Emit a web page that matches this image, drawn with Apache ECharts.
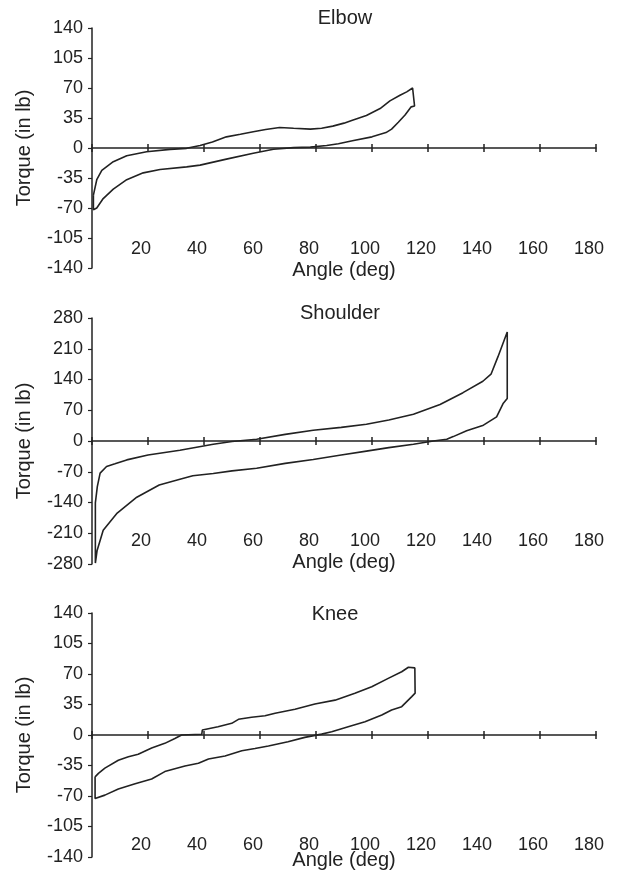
<!doctype html>
<html>
<head>
<meta charset="utf-8">
<title>Torque vs angle</title>
<script src="https://cdn.jsdelivr.net/npm/echarts@6/dist/echarts.min.js"></script>
<style>
html, body { margin: 0; background: #fff; }
#chart { width: 625px; height: 875px; }
</style>
</head>
<body>
<div id="chart"></div>
<script>
// angle axis (deg)
const angleMin = 0, angleMax = 180, angleStep = 20;

// torque ticks (in lb)
const elbowTicks = [-140, -105, -70, -35, 0, 35, 70, 105, 140];
const shoulderTicks = [-280, -210, -140, -70, 0, 70, 140, 210, 280];
const kneeTicks = [-140, -105, -70, -35, 0, 35, 70, 105, 140];

// [angle, torque], upper branch then lower branch
const elbowUpper = [[0.5,-55],[1.7,-37],[3.5,-26],[7.6,-16],[12.4,-9],[19.5,-4.3],[27.9,-1.6],[33.8,-0.4],[38.6,3],[43,7],[48,13],[53,16],[57.6,19],[62,21.5],[67,24],[72,23],[78,22],[82,23],[86,25.5],[90,29],[93,32.5],[98,38],[102.9,46],[106.4,55],[110,61.5],[112.4,65.5],[114.5,70],[115.2,69.5]];
const elbowLower = [[115.2,49],[114,48],[111.8,38.5],[109.4,30],[107,22],[105,18],[100,13],[93,8.5],[88,5],[83.8,3],[78,1],[72,0.4],[64.8,-1.5],[57.6,-6.2],[48,-13],[38.6,-20],[33.8,-22],[24.3,-25],[18.3,-29],[12.4,-37],[7.6,-48],[4,-59],[1.7,-70],[0.5,-72]];

const shoulderUpper = [[1.2,-278],[1.2,-141],[1.9,-104],[2.9,-73],[5.2,-58],[8.2,-52],[12.4,-43],[20,-32],[31.4,-21],[43.3,-7.5],[50,-1],[58.8,4],[69,15],[79,24.5],[89,31],[98,38],[106,48],[114.8,61],[124.3,83],[132.5,110],[139.6,136],[142.5,152],[145,192],[148.3,248]];
const shoulderLower = [[148.3,97],[146.9,86],[144.5,55],[139.8,36],[133.8,23.5],[129,10],[126.7,4],[121.9,0],[114.8,-7.5],[106,-15],[98,-23],[89,-32],[79,-42],[69,-51],[58.8,-62],[50,-68],[43.3,-74],[36,-79],[31.4,-87],[24,-100],[16,-128],[9,-164],[4,-203],[1.8,-250],[1.2,-278]];

const kneeUpper = [[1.1,-48],[2.3,-44],[4.6,-38],[9.4,-29],[13,-25],[16.5,-22],[21.3,-15],[26,-9.6],[29.6,-4],[32,0],[39.2,0.8],[39.4,5.7],[45,9.5],[49.9,13.4],[52.3,18],[57,20.3],[61.8,22],[65.4,25],[72.5,29.5],[79.6,35.6],[86.8,40],[93.9,47.8],[99.9,55.4],[105.8,65],[110.6,72.6],[113,77.7],[115.3,77]];
const kneeLower = [[115.4,48],[114.2,44],[110.6,32.5],[107,28.7],[103.5,23],[97.5,15.3],[91.5,9.5],[85.6,3.8],[82,1],[76,-2.7],[70,-7.7],[63,-12.6],[58.2,-15.5],[53.5,-18],[47.5,-24],[41.6,-27.5],[38,-32.5],[33.2,-35.6],[26,-42],[21.3,-50.5],[15.4,-56],[9.4,-62],[4.6,-69],[1.1,-73]];

const font = 'Liberation Sans, Arial, sans-serif';
const ink = '#222';

const panels = [
	{ title: 'Elbow', ticks: elbowTicks, upper: elbowUpper, lower: elbowLower, top: 28, height: 240, titleX: 345, titleY: 18, labelMargin: 10, nameGap: 2 },
	{ title: 'Shoulder', ticks: shoulderTicks, upper: shoulderUpper, lower: shoulderLower, top: 318, height: 246, titleX: 340, titleY: 313, labelMargin: 14, nameGap: -2 },
	{ title: 'Knee', ticks: kneeTicks, upper: kneeUpper, lower: kneeLower, top: 613, height: 244, titleX: 335, titleY: 614, labelMargin: 3, nameGap: 3 }
];

let grids = [], xAxes = [], yAxes = [], series = [], texts = [];

panels.forEach((p, i) => {
	grids.push({ left: 92, right: 29, top: p.top, height: p.height });

	yAxes.push({
		gridIndex: i,
		type: 'value',
		min: p.ticks[0],
		max: p.ticks[p.ticks.length - 1],
		interval: p.ticks[1] - p.ticks[0],
		name: 'Torque (in lb)',
		nameLocation: 'middle',
		nameGap: 58,
		nameMoveOverlap: false,
		nameTextStyle: { fontSize: 20, color: ink, fontFamily: font },
		axisLine: { show: true, onZero: false, lineStyle: { color: ink, width: 1.5 } },
		axisTick: { show: true, length: 4, lineStyle: { color: ink, width: 1.2 } },
		axisLabel: { fontSize: 18, color: ink, fontFamily: font, margin: 9 },
		splitLine: { show: false }
	});

	let base = { gridIndex: i, type: 'value', min: angleMin, max: angleMax, interval: angleStep, splitLine: { show: false } };

	// zero line with ticks pointing down
	let zeroIdx = xAxes.length;
	xAxes.push(Object.assign({}, base, {
		position: 'bottom',
		axisLine: { show: true, onZero: true, onZeroAxisIndex: i, lineStyle: { color: ink, width: 1.5 } },
		axisTick: { show: true, length: 4, lineStyle: { color: ink, width: 1.5 } },
		axisLabel: { show: false }
	}));
	// ticks pointing up
	xAxes.push(Object.assign({}, base, {
		position: 'top',
		axisLine: { show: false, onZero: true, onZeroAxisIndex: i },
		axisTick: { show: true, length: 4, lineStyle: { color: ink, width: 1.5 } },
		axisLabel: { show: false }
	}));
	// labels and name along the bottom
	xAxes.push(Object.assign({}, base, {
		position: 'bottom',
		name: 'Angle (deg)',
		nameLocation: 'middle',
		nameGap: p.nameGap,
		nameMoveOverlap: false,
		nameTextStyle: { fontSize: 20, color: ink, fontFamily: font, verticalAlign: 'middle' },
		axisLine: { show: false, onZero: false },
		axisTick: { show: false },
		axisLabel: { inside: true, align: 'center', padding: [0, 14, 0, 0], showMinLabel: false, margin: p.labelMargin, fontSize: 18, color: ink, fontFamily: font }
	}));

	series.push({
		type: 'line',
		xAxisIndex: zeroIdx,
		yAxisIndex: i,
		data: p.upper.concat(p.lower, [p.upper[0]]),
		showSymbol: false,
		silent: true,
		lineStyle: { color: ink, width: 1.6 }
	});

	texts.push({
		type: 'text',
		x: p.titleX,
		y: p.titleY,
		style: { text: p.title, fill: ink, font: '20px ' + font, textAlign: 'center', textVerticalAlign: 'middle' }
	});
});

const chart = echarts.init(document.getElementById('chart'));
chart.setOption({
	animation: false,
	backgroundColor: '#fff',
	grid: grids,
	xAxis: xAxes,
	yAxis: yAxes,
	series: series,
	graphic: texts
});
</script>
</body>
</html>
